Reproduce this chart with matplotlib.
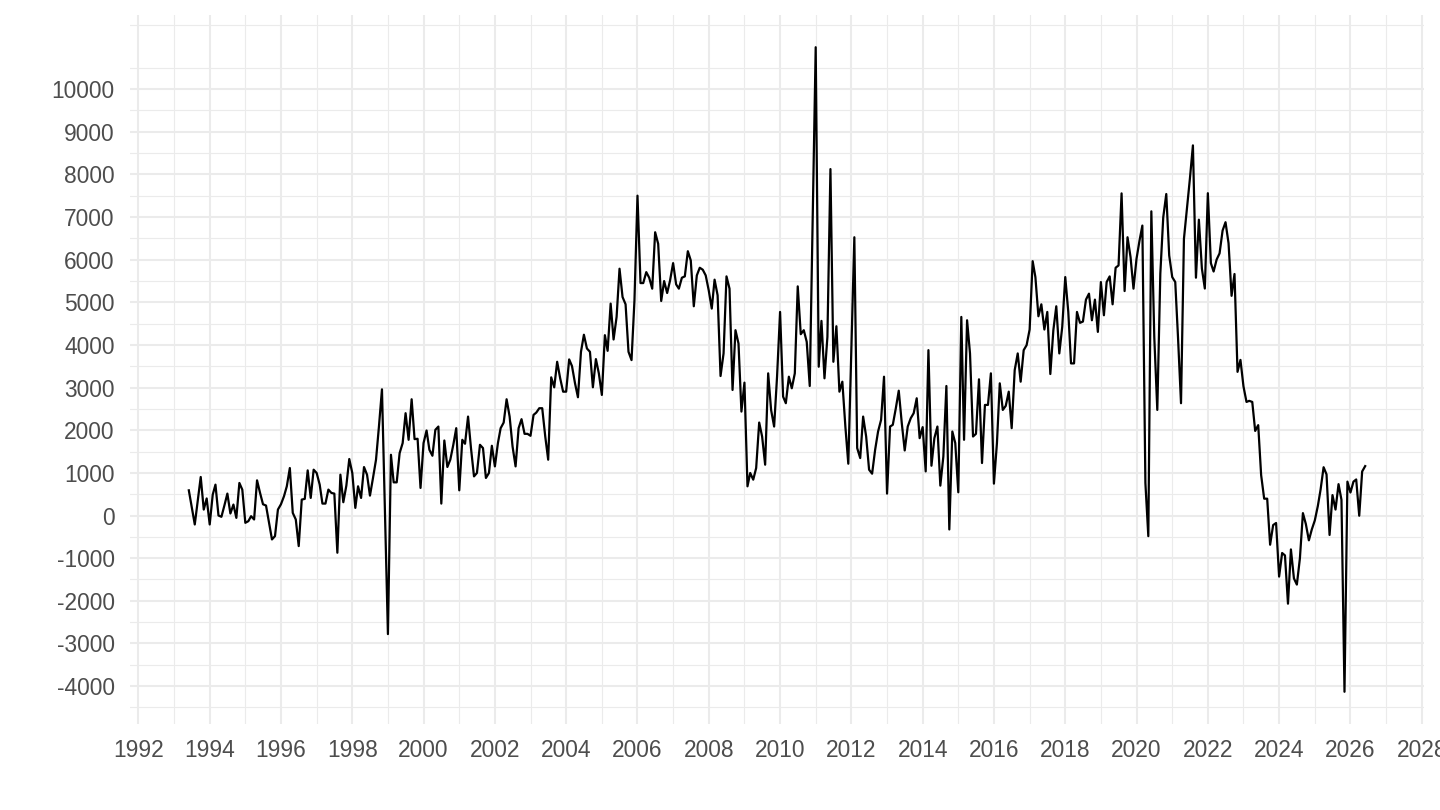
import numpy as np
import pandas as pd
import matplotlib
matplotlib.use('Agg')
import matplotlib.pyplot as plt
import matplotlib.dates as mdates
from matplotlib.ticker import FixedLocator, FuncFormatter

plt.rcParams['font.family'] = ['Liberation Sans', 'DejaVu Sans']
plt.rcParams['axes.unicode_minus'] = False

# monthly values, one list per year (series starts June 1993)
y1993 = [591, 190, -210, 350, 904, 140, 400]
y1994 = [-210, 490, 724, 0, -30, 240, 514, 47, 257, -55, 764, 607]
y1995 = [-171, -132, -16, -93, 825, 530, 264, 234, -171, -561, -483, 140]
y1996 = [264, 451, 685, 1114, 62, -93, -717, 374, 390, 1059, 413, 1075]
y1997 = [997, 724, 280, 280, 608, 530, 514, -873, 958, 312, 701, 1325]
y1998 = [997, 179, 685, 413, 1137, 958, 467, 880, 1309, 2088, 2960, 100]
y1999 = [-2781, 1425, 778, 778, 1465, 1699, 2400, 1776, 2727, 1792, 1800, 647]
y2000 = [1699, 1994, 1542, 1402, 2010, 2087, 280, 1760, 1138, 1309, 1659, 2049]
y2001 = [591, 1776, 1683, 2321, 1582, 918, 998, 1659, 1582, 881, 998, 1636]
y2002 = [1152, 1699, 2049, 2180, 2727, 2321, 1620, 1152, 2049, 2260, 1916, 1916]
y2003 = [1870, 2360, 2414, 2517, 2517, 1853, 1309, 3241, 3007, 3606, 3218, 2905]
y2004 = [2905, 3662, 3505, 3101, 2774, 3840, 4240, 3918, 3840, 3008, 3669, 3335]
y2005 = [2828, 4230, 3863, 4971, 4129, 4658, 5789, 5125, 4954, 3840, 3646, 5048]
y2006 = [7502, 5452, 5452, 5709, 5578, 5321, 6644, 6373, 5032, 5499, 5219, 5515]
y2007 = [5920, 5422, 5321, 5578, 5609, 6200, 5983, 4908, 5632, 5812, 5765, 5632]
y2008 = [5282, 4854, 5532, 5165, 3272, 3802, 5609, 5321, 2945, 4347, 4035, 2438]
y2009 = [3117, 685, 998, 841, 1114, 2181, 1853, 1192, 3335, 2477, 2087, 3256]
y2010 = [4775, 2789, 2634, 3256, 2984, 3335, 5375, 4253, 4347, 4074, 3038, 7000]
y2011 = [10984, 3490, 4565, 3218, 4191, 8126, 3606, 4440, 2905, 3139, 2087, 1215]
y2012 = [3870, 6527, 1582, 1348, 2321, 1853, 1075, 981, 1542, 1970, 2244, 3256]
y2013 = [514, 2087, 2127, 2517, 2928, 2166, 1526, 2087, 2283, 2400, 2750, 1815]
y2014 = [2073, 1035, 3879, 1168, 1815, 2087, 701, 1386, 3038, -327, 1970, 1699]
y2015 = [545, 4658, 1776, 4580, 3802, 1853, 1916, 3195, 1231, 2594, 2594, 3335]
y2016 = [748, 1699, 3101, 2477, 2571, 2905, 2049, 3412, 3802, 3139, 3879, 3996]
y2017 = [4363, 5966, 5593, 4674, 4954, 4363, 4775, 3319, 4347, 4908, 3802, 4425]
y2018 = [5593, 4775, 3568, 3568, 4775, 4519, 4550, 5064, 5204, 4580, 5064, 4307]
y2019 = [5476, 4697, 5476, 5609, 4954, 5812, 5866, 7556, 5265, 6527, 6060, 5321]
y2020 = [6022, 6450, 6801, 764, -484, 7135, 4191, 2477, 5672, 6995, 7541, 6100]
y2021 = [5593, 5476, 4191, 2634, 6490, 7200, 7900, 8682, 5578, 6939, 5791, 5324]
y2022 = [7560, 5920, 5723, 6004, 6149, 6684, 6880, 6387, 5153, 5665, 3370, 3650]
y2023 = [3029, 2664, 2690, 2664, 1984, 2120, 947, 395, 395, -685, -224, -175]
y2024 = [-1432, -879, -935, -2068, -795, -1475, -1620, -1007, 56, -199, -582, -327]
y2025 = [-114, 225, 608, 1133, 965, -456, 479, 140, 736, 369, -4134, 795]
y2026 = [540, 795, 846, -5, 1033, 1159]

values = (y1993 + y1994 + y1995 + y1996 + y1997 + y1998 + y1999 + y2000 + y2001
          + y2002 + y2003 + y2004 + y2005 + y2006 + y2007 + y2008 + y2009 + y2010
          + y2011 + y2012 + y2013 + y2014 + y2015 + y2016 + y2017 + y2018 + y2019
          + y2020 + y2021 + y2022 + y2023 + y2024 + y2025 + y2026)
dates = pd.date_range('1993-06-01', periods=len(values), freq='MS')

y_breaks = list(range(-4000, 10001, 1000))
y_minor = list(range(-4500, 11501, 1000))

grid_col = '#EBEBEB'
text_col = '#4D4D4D'

fig = plt.figure(figsize=(14.4, 8.1), dpi=100)
ax = fig.add_axes([130 / 1440, 1 - 724 / 810, (1424 - 130) / 1440, (724 - 15) / 810])

ax.plot(dates, values, color='black', linewidth=1.6, zorder=3)

ax.margins(x=0.05, y=0.05)

ax.xaxis.set_major_locator(mdates.YearLocator(2))
ax.xaxis.set_minor_locator(mdates.YearLocator(1))
ax.xaxis.set_major_formatter(mdates.DateFormatter('%Y'))
ax.yaxis.set_major_locator(FixedLocator(y_breaks))
ax.yaxis.set_minor_locator(FixedLocator(y_minor))
ax.yaxis.set_major_formatter(FuncFormatter(lambda v, p: f'{int(v)}'))

ax.grid(which='major', color=grid_col, linewidth=1.5, zorder=0)
ax.grid(which='minor', color=grid_col, linewidth=0.8, zorder=0)
ax.set_axisbelow(True)

for s in ax.spines.values():
    s.set_visible(False)
ax.tick_params(which='both', length=0)
ax.tick_params(axis='x', pad=11, labelsize=16.4, labelcolor=text_col)
ax.tick_params(axis='y', pad=11, labelsize=16.4, labelcolor=text_col)

fig.savefig('out.png', dpi=100, facecolor='white')
